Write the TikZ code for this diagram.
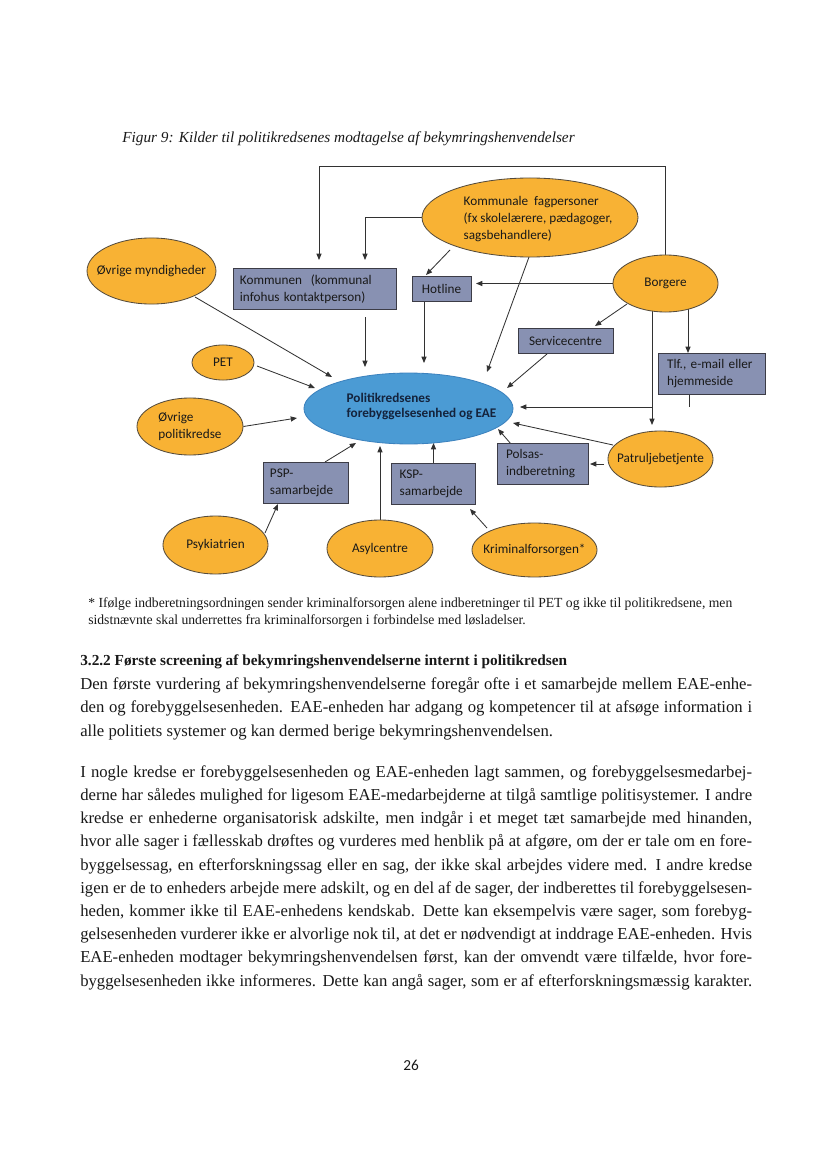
\documentclass[tikz,border=0pt]{standalone}
\usepackage{fontspec}
\setmainfont{Liberation Serif}
\newfontfamily\calfont{Carlito}
\usepackage{graphicx}
\usetikzlibrary{shapes.geometric,arrows.meta}
\pgfdeclarelayer{background}
\pgfsetlayers{background,main}
\definecolor{orfill}{RGB}{248,178,52}
\definecolor{orline}{RGB}{85,75,60}
\definecolor{bxfill}{RGB}{136,145,178}
\definecolor{bxline}{RGB}{60,60,70}
\definecolor{cfill}{RGB}{75,155,212}
\definecolor{cline}{RGB}{60,130,190}
\definecolor{arcol}{RGB}{50,50,50}
\definecolor{ctext}{RGB}{20,35,60}
\definecolor{txt}{RGB}{25,25,25}
\begin{document}
\hyphenpenalty=10000 \exhyphenpenalty=10000
\begin{tikzpicture}[x=0.71894pt,y=-0.71894pt,
  dfont/.style={font=\calfont\fontsize{9.5}{12.2}\selectfont},
  ell/.style={ellipse, draw=orline, fill=orfill, line width=0.6pt, inner xsep=-8pt, inner ysep=0pt, dfont, text=txt, align=left},
  cel/.style={ellipse, draw=cline, fill=cfill, line width=0.6pt, inner sep=0pt},
  bx/.style={rectangle, draw=bxline, fill=bxfill, line width=0.7pt, inner ysep=0pt, dfont, text=txt, align=left},
  ttxt/.style={inner sep=0pt, dfont, text=txt, align=left},
  arr/.style={draw=arcol, line width=0.6pt, -{Triangle[length=4.5pt,width=3.6pt]}},
  ln/.style={draw=arcol, line width=0.6pt},
  body/.style={anchor=base west, inner sep=0pt, text=txt}]
\useasboundingbox (0,0) rectangle (828,1169);

% title
\node[body, font=\fontsize{11}{13}\selectfont\itshape] (title) at (122,143) {Figur 9: Kilder til politikredsenes modtagelse af bekymringshenvendelser};

% diagram nodes
\node[ell, minimum width=92.7pt, minimum height=47.5pt] (myn) at (151.5,271) {Øvrige myndigheder};
\node[bx, minimum width=117.2pt, minimum height=28.8pt, text width=107.2pt, inner xsep=5pt] (kom) at (314.5,289) {Kommunen\ \ (kommunal\\infohus kontaktperson)};
\node[ell, minimum width=155.3pt, minimum height=56.8pt] (kfp) at (530,217.5) {};
\node[ttxt] (kfpt) at (538,219.5) {Kommunale\ \ fagpersoner\\(fx skolelærere, pædagoger,\\sagsbehandlere)};
\node[bx, minimum width=42.4pt, minimum height=17.3pt, inner xsep=0pt] (hot) at (441.5,289) {Hotline};
\node[ell, minimum width=75.5pt, minimum height=41pt] (bor) at (665.5,283.5) {Borgere};
\node[bx, minimum width=68.3pt, minimum height=17.3pt, inner xsep=0pt] (svc) at (565.5,341) {Servicecentre};
\node[bx, minimum width=77.6pt, minimum height=28.8pt, text width=64.6pt, inner xsep=6.5pt] (tlf) at (712,374) {Tlf., e-mail eller\\hjemmeside};
\node[cel, minimum width=150.3pt, minimum height=51pt] (cen) at (408.5,408.5) {};
\node[ttxt, font=\calfont\bfseries\fontsize{9.5}{11}\selectfont, text=ctext] (cent) at (421.5,406.5) {Politikredsenes\\forebyggelsesenhed og EAE};
\node[ell, minimum width=44.6pt, minimum height=25.2pt] (pet) at (223,362.5) {PET};
\node[ell, minimum width=76.2pt, minimum height=41pt] (opk) at (190,426.5) {Øvrige\\politikredse};
\node[bx, minimum width=61.8pt, minimum height=28.8pt, text width=51.8pt, inner xsep=5pt] (psp) at (306,483) {PSP-\\samarbejde};
\node[bx, minimum width=59.7pt, minimum height=28.8pt, text width=48.7pt, inner xsep=5.5pt] (ksp) at (433.5,484) {KSP-\\samarbejde};
\node[bx, minimum width=65.4pt, minimum height=28.8pt, text width=52.4pt, inner xsep=6.5pt] (pol) at (542.5,464) {Polsas-\\indberetning};
\node[ell, minimum width=75.5pt, minimum height=40.3pt] (pat) at (660.5,459) {Patruljebetjente};
\node[ell, minimum width=75.5pt, minimum height=41.7pt] (psy) at (215.5,545) {Psykiatrien};
\node[ell, minimum width=76.2pt, minimum height=41pt] (asy) at (380,548.5) {Asylcentre};
\node[ell, minimum width=89.9pt, minimum height=38.8pt] (kri) at (534.5,550) {Kriminalforsorgen*};

\begin{pgfonlayer}{background}
\fill[white] (0,0) rectangle (828,1169);
\draw[arr] (bor.north) |- ([shift={(4.5,-123)}]kom.center) -- ([shift={(4.5,-29)}]kom.center);
\draw[arr] (kfp.west) -| ([shift={(50.5,-29)}]kom.center);
\draw[arr] ([shift={(-80,32.5)}]kfp.center) -- ([shift={(-15.5,-14)}]hot.center);
\draw[arr] ([shift={(-1,39.5)}]kfp.center) -- ([shift={(78.5,-36.5)}]cen.center);
\draw[arr] (bor.west) -- ([shift={(34.5,-5.5)}]hot.center);
\draw[arr] ([shift={(-38.5,20.5)}]bor.center) -- ([shift={(29.5,-15)}]svc.center);
\draw[arr] ([shift={(-18.5,13)}]svc.center) -- ([shift={(98.5,-20.5)}]cen.center);
\draw[arr] ([shift={(22.5,25.5)}]bor.center) -- ([shift={(-24,-21)}]tlf.center);
\draw[ln] ([shift={(-23,20)}]tlf.center) -- ([shift={(-23,33)}]tlf.center);
\draw[arr] ([shift={(-13.5,123.5)}]bor.center) -- ([shift={(111.5,-1.5)}]cen.center);
\draw[arr] ([shift={(-13.5,26.5)}]bor.center) -- ([shift={(-8.5,-34)}]pat.center);
\draw[arr] ([shift={(43.5,26)}]myn.center) -- ([shift={(-76.5,-31.5)}]cen.center);
\draw[arr] ([shift={(50.5,28)}]kom.center) -- ([shift={(-43.5,-41.5)}]cen.center);
\draw[arr] ([shift={(-17.5,12)}]hot.center) -- ([shift={(15.5,-45.5)}]cen.center);
\draw[arr] ([shift={(34,3.5)}]pet.center) -- ([shift={(-93.5,-20.5)}]cen.center);
\draw[arr] (opk.east) -- ([shift={(-111.5,9.5)}]cen.center);
\draw[arr] ([shift={(19,-21)}]psp.center) -- ([shift={(-52.5,34.5)}]cen.center);
\draw[arr] (asy.north) -- ([shift={(-28.5,37.5)}]cen.center);
\draw[arr] (ksp.north) -- ([shift={(25,34.5)}]cen.center);
\draw[arr] ([shift={(-31.5,-20)}]pol.center) -- ([shift={(89.5,20.5)}]cen.center);
\draw[arr] ([shift={(-47.5,-14)}]pat.center) -- ([shift={(104.5,14.5)}]cen.center);
\draw[arr] ([shift={(-56.5,5)}]pat.center) -- ([shift={(47.5,0)}]pol.center);
\draw[arr] ([shift={(49.5,-12)}]psy.center) -- ([shift={(-28,21)}]psp.center);
\draw[arr] ([shift={(-47.5,-22)}]kri.center) -- ([shift={(36.5,25)}]ksp.center);
\end{pgfonlayer}

% footnote
\node[body] (fn) at (88,607) {\resizebox{463pt}{\height}{\fontsize{10}{12.9}\selectfont\begin{tabular}[t]{@{}l@{}}* Ifølge indberetningsordningen sender kriminalforsorgen alene indberetninger til PET og ikke til politikredsene, men\\sidstnævnte skal underrettes fra kriminalforsorgen i forbindelse med løsladelser.\end{tabular}}};

% heading
\node[body, font=\fontsize{11}{13}\selectfont\bfseries] (h322) at (80,665) {3.2.2 Første screening af bekymringshenvendelserne internt i politikredsen};

% paragraph 1
\node[body] (par1) at (80,689.6) {\parbox[t]{483pt}{\fontsize{12}{16.68}\selectfont
\makebox[483pt][s]{Den første vurdering af bekymringshenvendelserne foregår ofte i et samarbejde mellem EAE-enhe-}\\
\makebox[483pt][s]{den og forebyggelsesenheden. EAE-enheden har adgang og kompetencer til at afsøge information i}\\
alle politiets systemer og kan dermed berige bekymringshenvendelsen.}};

% paragraph 2
\node[body] (par2) at (80,777.3) {\parbox[t]{483pt}{\fontsize{12}{16.68}\selectfont
\makebox[483pt][s]{I nogle kredse er forebyggelsesenheden og EAE-enheden lagt sammen, og forebyggelsesmedarbej-}\\
\makebox[483pt][s]{derne har således mulighed for ligesom EAE-medarbejderne at tilgå samtlige politisystemer. I andre}\\
\makebox[483pt][s]{kredse er enhederne organisatorisk adskilte, men indgår i et meget tæt samarbejde med hinanden,}\\
\makebox[483pt][s]{hvor alle sager i fællesskab drøftes og vurderes med henblik på at afgøre, om der er tale om en fore-}\\
\makebox[483pt][s]{byggelsessag, en efterforskningssag eller en sag, der ikke skal arbejdes videre med. I andre kredse}\\
\makebox[483pt][s]{igen er de to enheders arbejde mere adskilt, og en del af de sager, der indberettes til forebyggelsesen-}\\
\makebox[483pt][s]{heden, kommer ikke til EAE-enhedens kendskab. Dette kan eksempelvis være sager, som forebyg-}\\
\makebox[483pt][s]{gelsesenheden vurderer ikke er alvorlige nok til, at det er nødvendigt at inddrage EAE-enheden. Hvis}\\
\makebox[483pt][s]{EAE-enheden modtager bekymringshenvendelsen først, kan der omvendt være tilfælde, hvor fore-}\\
\makebox[483pt][s]{byggelsesenheden ikke informeres. Dette kan angå sager, som er af efterforskningsmæssig karakter.}}};

% page number
\node[font=\calfont\fontsize{11}{13}\selectfont, text=txt] (pg) at (411,1065) {26};
\end{tikzpicture}
\end{document}
